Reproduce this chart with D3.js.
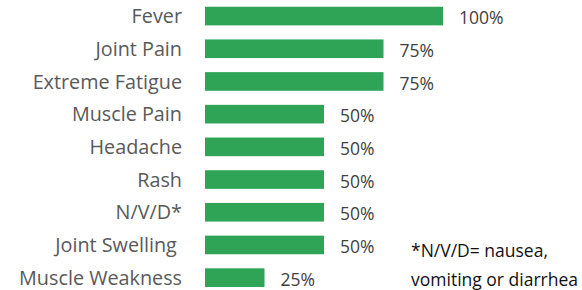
<!DOCTYPE html>
<html>
<head>
<meta charset="utf-8">
<script src="https://cdn.jsdelivr.net/npm/d3@7"></script>
<style>
  body { margin: 0; background: #fff; }
  svg { display: block; }
  text { white-space: pre; }
</style>
</head>
<body>
<div id="chart"></div>
<script>
const symptoms = ["Fever", "Joint Pain", "Extreme Fatigue", "Muscle Pain", "Headache",
                  "Rash", "N/V/D*", "Joint Swelling ", "Muscle Weakness"];
const percents = [100, 75, 75, 50, 50, 50, 50, 50, 25];
const footnote = ["*N/V/D= nausea,", "vomiting or diarrhea"];

const width = 582;
const height = 290;

const svg = d3.select("#chart")
              .append("svg")
              .attr("width", width)
              .attr("height", height)

const x = d3.scaleLinear()
            .domain([0, 100])
            .range([205, 443])

const y = d3.scaleBand()
            .domain(symptoms)
            .range([-0.3, 294])
            .paddingInner(0.43)
            .paddingOuter(0.215)

const rows = svg.selectAll("g.row")
                .data(symptoms.map((s, i) => ({name: s, value: percents[i]})))
                .enter()
                .append("g")
                .attr("class", "row")

rows.append("rect")
    .attr("x", x(0))
    .attr("y", d => y(d.name))
    .attr("width", d => x(d.value) - x(0))
    .attr("height", y.bandwidth())
    .attr("fill", "#2fa457")

rows.append("text")
    .attr("x", 182)
    .attr("y", d => y(d.name) + y.bandwidth() / 2)
    .attr("dy", "0.36em")
    .attr("text-anchor", "end")
    .attr("font-family", "'Open Sans', sans-serif")
    .attr("font-size", "19.8px")
    .attr("fill", "#595959")
    .text(d => d.name)

rows.append("text")
    .attr("x", d => x(d.value) + 16)
    .attr("y", d => y(d.name) + y.bandwidth() / 2)
    .attr("dy", "0.47em")
    .attr("font-family", "'Open Sans', sans-serif")
    .attr("font-size", "17.5px")
    .attr("fill", "#404040")
    .text(d => d.value + "%")

svg.append("text")
    .attr("font-family", "'Open Sans', sans-serif")
    .attr("font-size", "17.5px")
    .attr("fill", "#111")
    .selectAll("tspan")
    .data(footnote)
    .enter()
    .append("tspan")
    .attr("x", 411)
    .attr("y", (d, i) => 257 + i * 29)
    .text(d => d)
</script>
</body>
</html>
